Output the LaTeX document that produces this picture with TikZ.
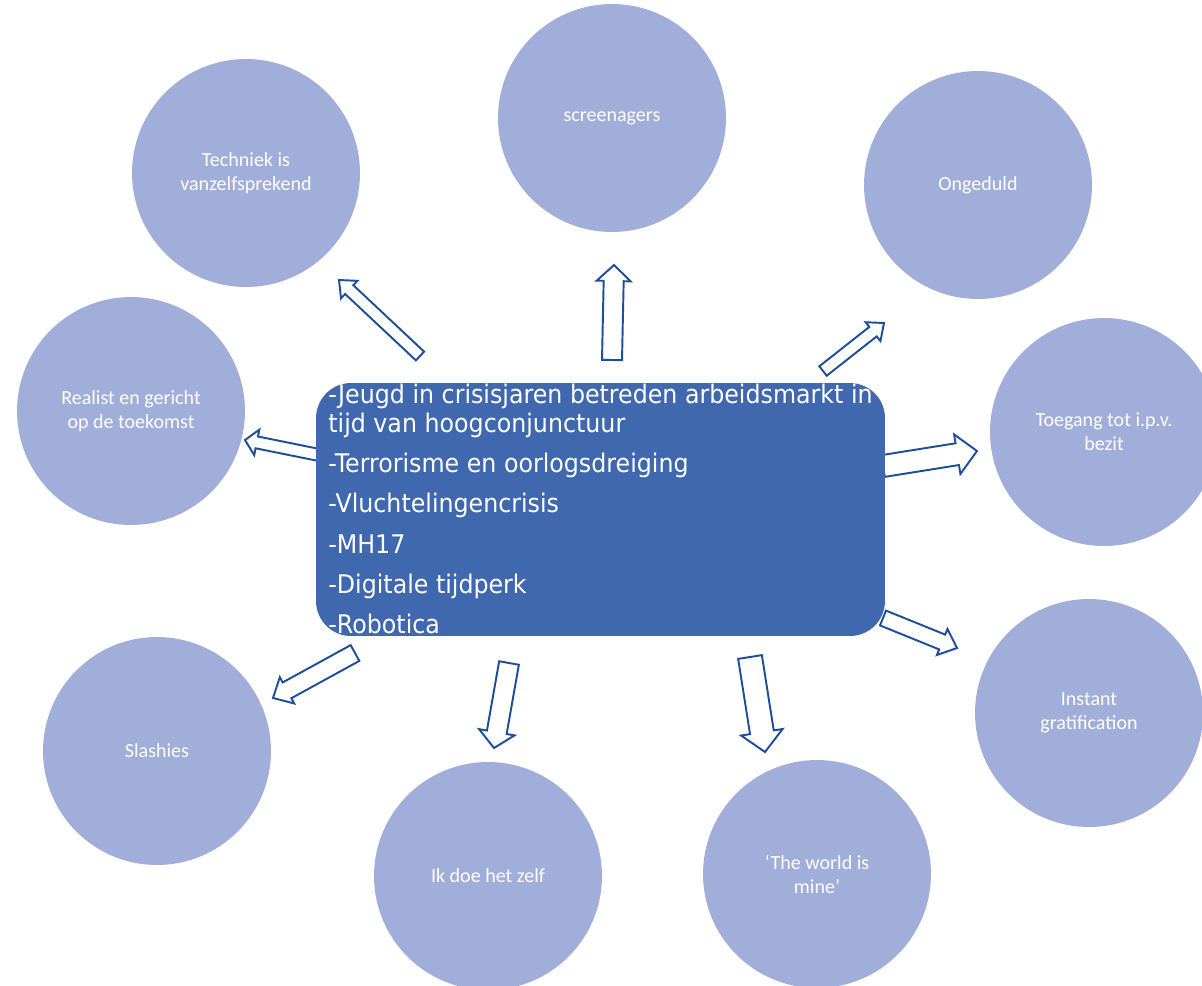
\documentclass[tikz,border=0pt]{standalone}
\usepackage{fontspec}
\setmainfont{Carlito}
\newfontfamily\boxfont{DejaVu Sans}[FakeStretch=0.925]
\usetikzlibrary{calc}

\definecolor{bubblefill}{RGB}{160,174,217}
\definecolor{boxfill}{RGB}{63,104,175}
\definecolor{arrowline}{RGB}{31,78,153}

% block arrow: tail, tip, shaft half width, head half width, head length (all in px)
\newcommand{\blockarrow}[5]{%
  \coordinate (#2-neck) at ($(#2)!#5*0.02cm!(#1)$);
  \draw[blockarr] ($(#1)!#3*0.02cm!90:(#2)$) -- ($(#2-neck)!#3*0.02cm!90:(#2)$)
    -- ($(#2-neck)!#4*0.02cm!90:(#2)$) -- (#2)
    -- ($(#2-neck)!#4*0.02cm!-90:(#2)$) -- ($(#2-neck)!#3*0.02cm!-90:(#2)$)
    -- ($(#1)!#3*0.02cm!-90:(#2)$) -- cycle;
}

\tikzset{
  bubble/.style={circle, fill=bubblefill, minimum size=4.56cm, inner sep=0pt,
    text=white, align=center, font=\fontsize{11.4}{13.6}\selectfont},
  centerbox/.style={rectangle, rounded corners=0.7cm, fill=boxfill,
    minimum width=11.38cm, minimum height=5.06cm, inner sep=0pt},
  boxtext/.style={text=white, align=left, inner sep=0pt,
    font=\boxfont\fontsize{14.6}{16.5}\selectfont},
  blockarr/.style={draw=arrowline, fill=white, line width=1.1pt, line join=miter},
}

\begin{document}
\begin{tikzpicture}[x=0.02cm, y=-0.02cm]

% Canvas (pixel grid, y down)
\useasboundingbox (0,0) rectangle (1202,985);
\fill[white] (0,0) rectangle (1202,985);
\clip (0,0) rectangle (1202,985);

% Bubbles
\node[bubble] (techniek) at (246,173) {Techniek is\\vanzelfsprekend};
\node[bubble] (screen) at (612,118) {screenagers};
\node[bubble] (ongeduld) at (978,185) {Ongeduld};
\node[bubble] (toegang) at (1104,432) {Toegang tot i.p.v.\\bezit};
\node[bubble] (realist) at (131,411) {Realist en gericht\\op de toekomst};
\node[bubble] (instant) at (1089,713) {Instant\\gratification};
\node[bubble] (slashies) at (157,751) {Slashies};
\node[bubble] (zelf) at (488,876) {Ik doe het zelf};
\node[bubble] (world) at (817,874) {‘The world is\\mine’};

% Arrow ends
\coordinate (t1) at (420,356);  \coordinate (h1) at (339,280);
\coordinate (t2) at (612,360);  \coordinate (h2) at (614,265);
\coordinate (t3) at (823,371);  \coordinate (h3) at (884,323);
\coordinate (t4) at (883,466);  \coordinate (h4) at (977,451);
\coordinate (t5) at (883,618);  \coordinate (h5) at (957,648);
\coordinate (t6) at (329,457);  \coordinate (h6) at (245,440);
\coordinate (t7) at (355,653);  \coordinate (h7) at (273,698);
\coordinate (t8) at (509,663);  \coordinate (h8) at (494,748);
\coordinate (t9) at (750,657);  \coordinate (h9) at (765,752);

% Block arrows
\blockarrow{t1}{h1}{6}{12}{14}
\blockarrow{t2}{h2}{10}{17}{16}
\blockarrow{t3}{h3}{6}{12}{14}
\blockarrow{t4}{h4}{11}{20}{20}
\blockarrow{t5}{h5}{8}{14}{16}
\blockarrow{t6}{h6}{6}{13}{12}
\blockarrow{t7}{h7}{9}{15}{16}
\blockarrow{t8}{h8}{10}{18}{16}
\blockarrow{t9}{h9}{12}{21}{20}

% Central box
\node[centerbox] (crisis) at (600.5,509.5) {};
\node[boxtext, anchor=north west] (crisistext) at (328,384)
  {-Jeugd in crisisjaren betreden arbeidsmarkt in\\tijd van hoogconjunctuur\\[6.3pt]%
   -Terrorisme en oorlogsdreiging\\[6.3pt]-Vluchtelingencrisis\\[6.3pt]-MH17\\[6.3pt]%
   -Digitale tijdperk\\[6.3pt]-Robotica};

\end{tikzpicture}
\end{document}
